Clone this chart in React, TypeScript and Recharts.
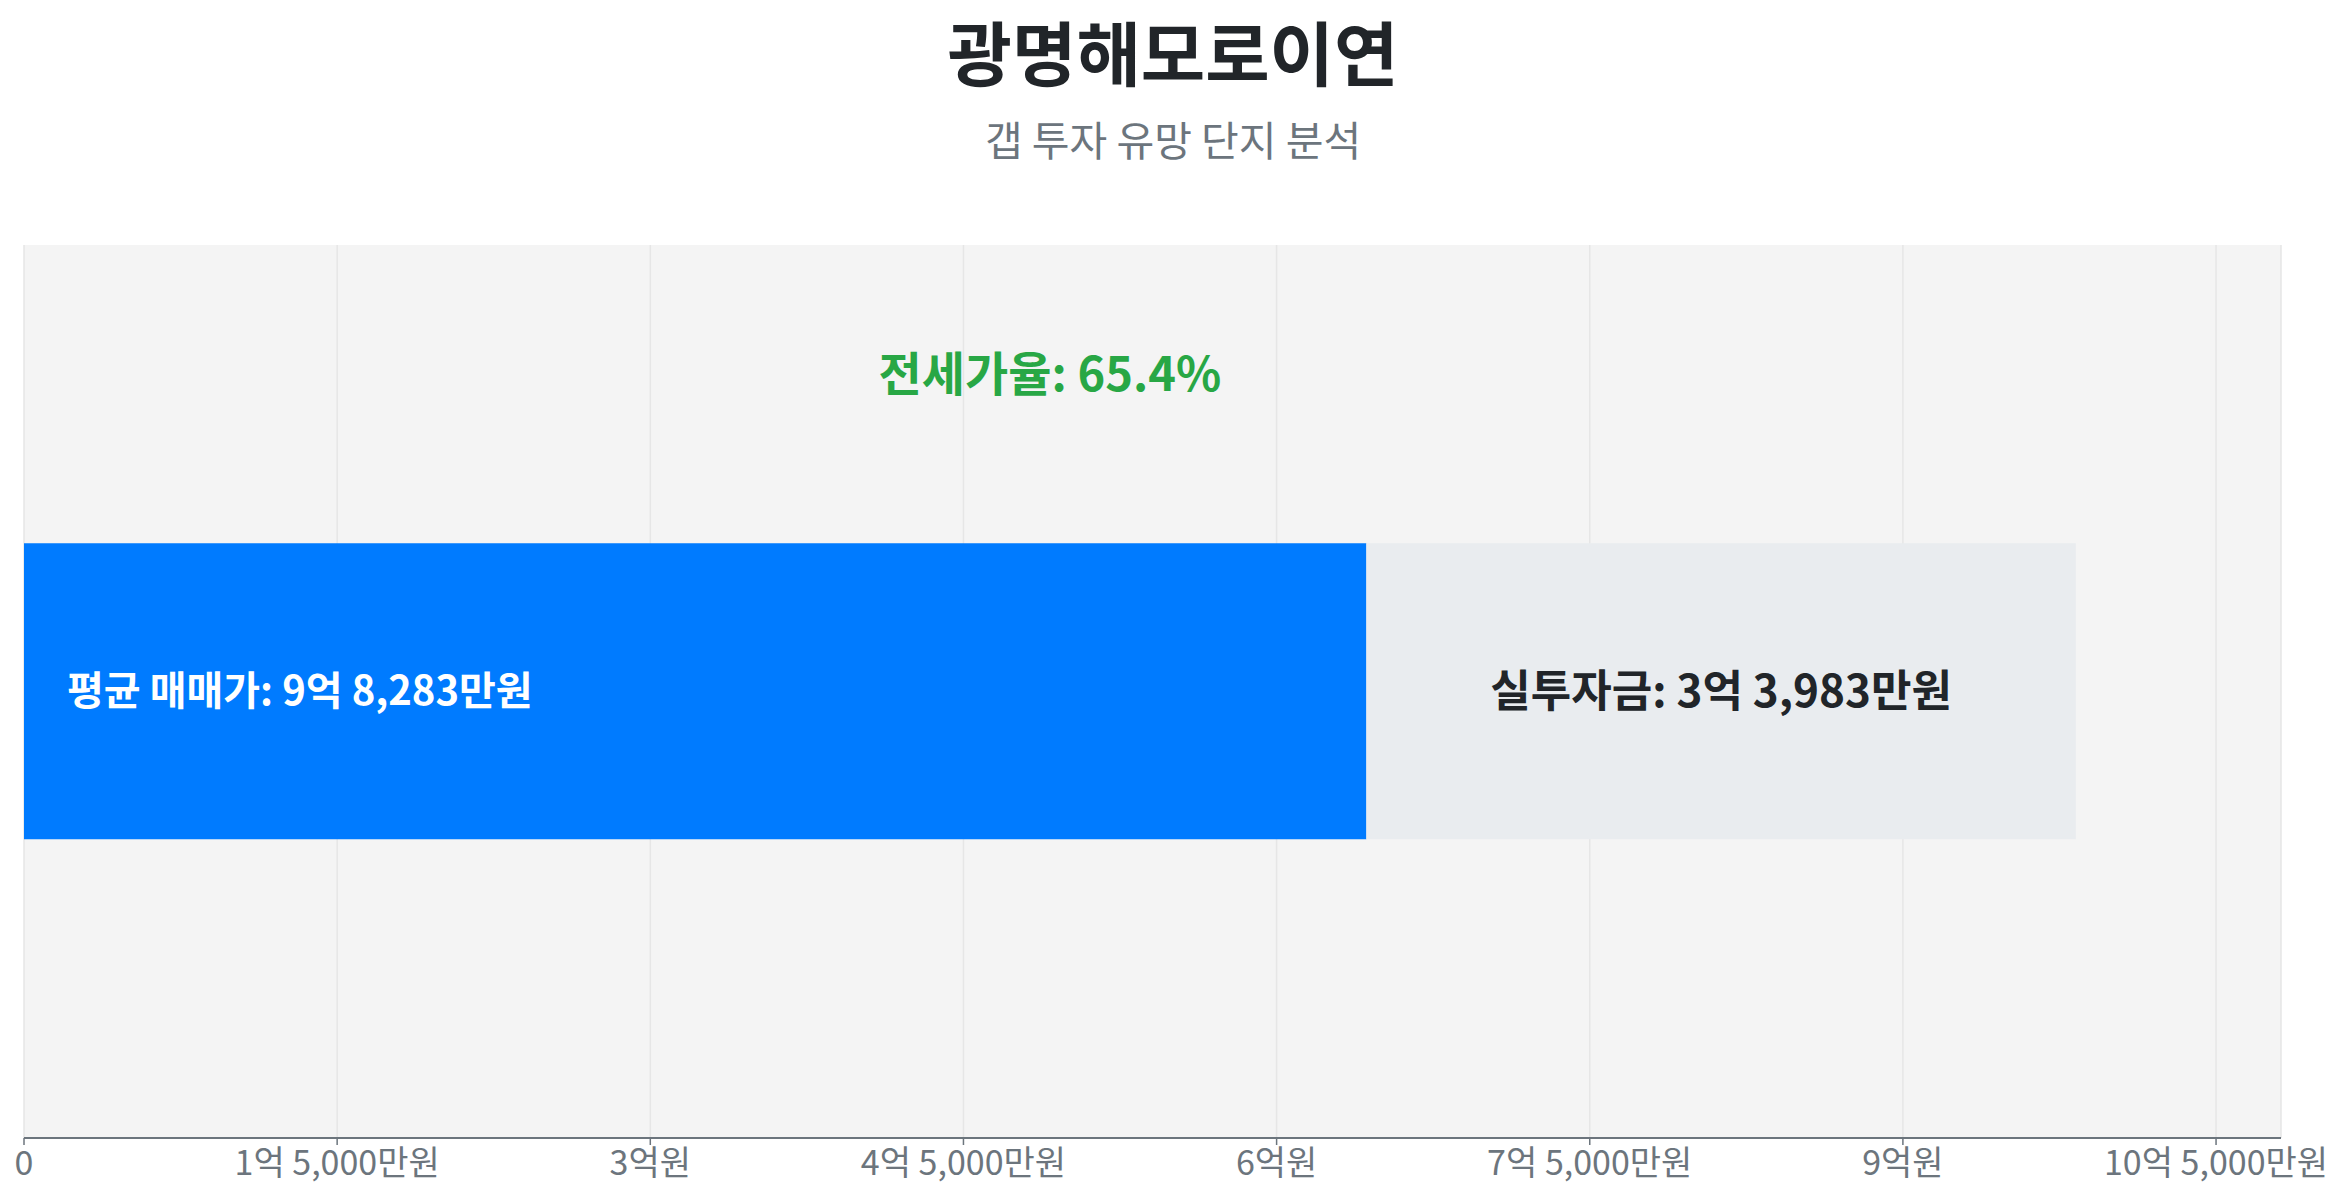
import React from "react";
import {
  BarChart,
  Bar,
  XAxis,
  YAxis,
  CartesianGrid,
  LabelList,
  ReferenceLine,
} from "recharts";

// values in 만원
const complexName = "광명해모로이연";
const avgPrice = 98283;
const jeonsePrice = 64300;
const investment = 33983;
const xTicks = [0, 15000, 30000, 45000, 60000, 75000, 90000, 105000];
const xMax = 108111;

const FONT = '"Noto Sans CJK KR", "Noto Sans", sans-serif';

const data = [{ name: complexName, jeonse: jeonsePrice, investment, avgPrice }];

function fmtWon(v: number) {
  if (!v) return "0";
  const eok = Math.floor(v / 10000);
  const man = Math.round(v % 10000);
  if (man === 0) return `${eok}억원`;
  const manStr = `${man.toLocaleString("en-US")}만원`;
  return eok > 0 ? `${eok}억 ${manStr}` : manStr;
}

const ratio = ((jeonsePrice / avgPrice) * 100).toFixed(1);

export default function App() {
  return (
    <div style={{ position: "relative", width: 2330, height: 1176, fontFamily: FONT }}>
      <div
        style={{
          position: "absolute",
          top: -8,
          left: 0,
          width: 2330,
          textAlign: "center",
          fontSize: 70,
          lineHeight: "102px",
          fontWeight: 700,
          color: "#212529",
        }}
      >
        {complexName}
      </div>
      <div
        style={{
          position: "absolute",
          top: 109,
          left: 0,
          width: 2330,
          textAlign: "center",
          fontSize: 41,
          lineHeight: "42px",
          color: "#6c757d",
        }}
      >
        갭 투자 유망 단지 분석
      </div>
      <div style={{ position: "absolute", top: 0, left: 0 }}>
        <BarChart
          width={2330}
          height={1176}
          data={data}
          layout="vertical"
          barCategoryGap="33.4%"
          margin={{ top: 237, right: 57, left: 16, bottom: 0 }}
        >
          <CartesianGrid horizontal={false} fill="#f4f4f4" stroke="#e6e6e6" strokeWidth={1.5} />
          <XAxis
            type="number"
            domain={[0, xMax]}
            ticks={xTicks}
            interval={0}
            tickFormatter={fmtWon}
            height={46}
            tickSize={7}
            tickMargin={6}
            axisLine={{ stroke: "#6c757d", strokeWidth: 2 }}
            tickLine={{ stroke: "#6c757d", strokeWidth: 1.5 }}
            tick={{ fontSize: 34, fill: "#6c757d", fontFamily: FONT }}
          />
          <YAxis
            type="category"
            dataKey="name"
            width={0}
            tick={false}
            tickLine={false}
            axisLine={{ stroke: "#6c757d", strokeWidth: 1.5 }}
          />
          <ReferenceLine
            x={avgPrice / 2}
            stroke="none"
            label={{
              value: `전세가율: ${ratio}%`,
              position: "insideTop",
              offset: 113,
              fill: "#28a745",
              fontSize: 47,
              fontWeight: 700,
              fontFamily: FONT,
            }}
          />
          <Bar dataKey="jeonse" stackId="a" fill="#007bff" isAnimationActive={false}>
            <LabelList
              dataKey="avgPrice"
              position="insideLeft"
              offset={43}
              formatter={(v: number) => `평균 매매가: ${fmtWon(v)}`}
              fill="#ffffff"
              fontSize={40}
              fontWeight={700}
              fontFamily={FONT}
            />
          </Bar>
          <Bar dataKey="investment" stackId="a" fill="#e9ecef" isAnimationActive={false}>
            <LabelList
              dataKey="investment"
              position="center"
              formatter={(v: number) => `실투자금: ${fmtWon(v)}`}
              fill="#212529"
              fontSize={44}
              fontWeight={700}
              fontFamily={FONT}
            />
          </Bar>
        </BarChart>
      </div>
    </div>
  );
}
